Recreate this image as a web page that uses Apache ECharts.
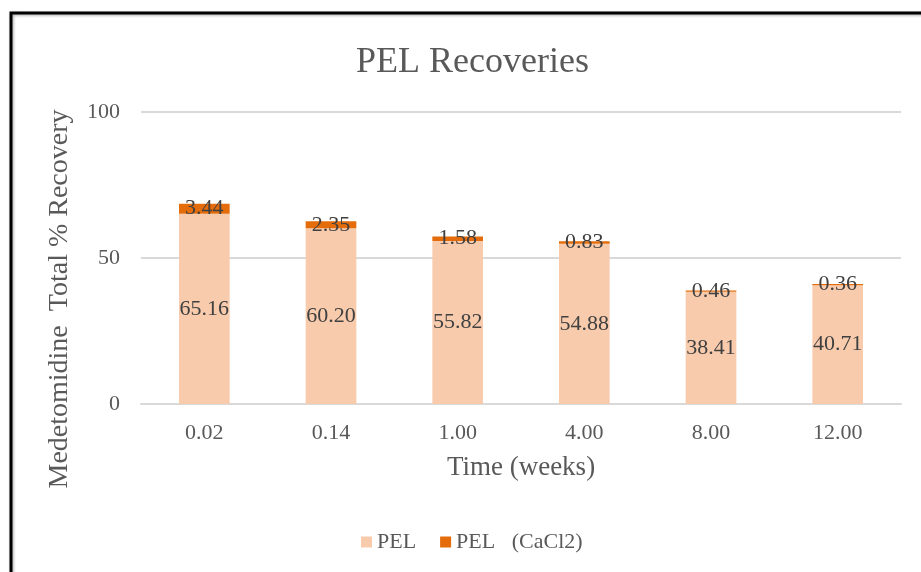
<!DOCTYPE html>
<html>
<head>
<meta charset="utf-8">
<script src="https://cdn.jsdelivr.net/npm/echarts@6/dist/echarts.min.js"></script>
<style>html,body{margin:0;padding:0;background:#fff}#c{width:921px;height:572px}</style>
</head>
<body>
<div id="c"></div>
<script>
var categories = ['0.02', '0.14', '1.00', '4.00', '8.00', '12.00'];
var pelValues = [65.16, 60.20, 55.82, 54.88, 38.41, 40.71];
var cacl2Values = [3.44, 2.35, 1.58, 0.83, 0.46, 0.36];
var seriesNames = ['PEL', 'PEL   (CaCl2)'];
var yTicks = [0, 50, 100];

var FONT = '"Liberation Serif", "Times New Roman", serif';
var chart = echarts.init(document.getElementById('c'));
chart.setOption({
  backgroundColor: '#fff',
  animation: false,
  title: {
    text: 'PEL Recoveries',
    left: 351, top: 40,
    textStyle: { fontFamily: FONT, fontSize: 36, fontWeight: 'normal', color: '#595959' }
  },
  legend: {
    data: seriesNames,
    left: 356, top: 526,
    itemWidth: 11, itemHeight: 11, itemGap: 24,
    icon: 'rect',
    textStyle: { fontFamily: FONT, fontSize: 22, color: '#595959' }
  },
  grid: { left: 141, right: 20, top: 112, bottom: 168 },
  xAxis: {
    type: 'category',
    data: categories,
    name: 'Time (weeks)',
    nameLocation: 'middle',
    nameGap: 50,
    nameTextStyle: { fontFamily: FONT, fontSize: 27, color: '#595959' },
    axisLine: { lineStyle: { color: '#D9D9D9', width: 2 } },
    axisTick: { show: false },
    axisLabel: { fontFamily: FONT, fontSize: 22, color: '#595959', margin: 18 }
  },
  yAxis: {
    type: 'value',
    min: yTicks[0], max: yTicks[yTicks.length - 1], interval: 50,
    axisLine: { show: false },
    axisTick: { show: false },
    splitLine: { lineStyle: { color: '#D9D9D9', width: 2 } },
    axisLabel: { fontFamily: FONT, fontSize: 22, color: '#595959', margin: 21 }
  },
  graphic: [
    {
      type: 'rect',
      shape: { x: 11, y: 13, width: 1000, height: 1000 },
      style: { fill: 'none', stroke: '#000', lineWidth: 3, shadowColor: 'rgba(0,0,0,0.35)', shadowBlur: 3, shadowOffsetX: 1, shadowOffsetY: 1 },
      silent: true, z: 100
    },
    {
      type: 'text',
      x: 60, y: 299,
      rotation: Math.PI / 2,
      style: {
        text: 'Medetomidine  Total % Recovery',
        fontFamily: FONT, fontSize: 28, fill: '#595959',
        textAlign: 'center', textVerticalAlign: 'middle'
      }
    }
  ],
  series: [
    {
      name: seriesNames[0], type: 'bar', stack: 'total', barWidth: '40%',
      data: pelValues,
      itemStyle: { color: '#F8CBAD' },
      label: { show: true, position: 'inside', formatter: function (p) { return p.value.toFixed(2); },
        fontFamily: FONT, fontSize: 22, color: '#404040' }
    },
    {
      name: seriesNames[1], type: 'bar', stack: 'total', barWidth: '40%',
      data: cacl2Values,
      itemStyle: { color: '#E46C0A' },
      label: { show: true, position: 'inside', formatter: function (p) { return p.value.toFixed(2); },
        fontFamily: FONT, fontSize: 22, color: '#404040' }
    }
  ]
});
</script>
</body>
</html>
